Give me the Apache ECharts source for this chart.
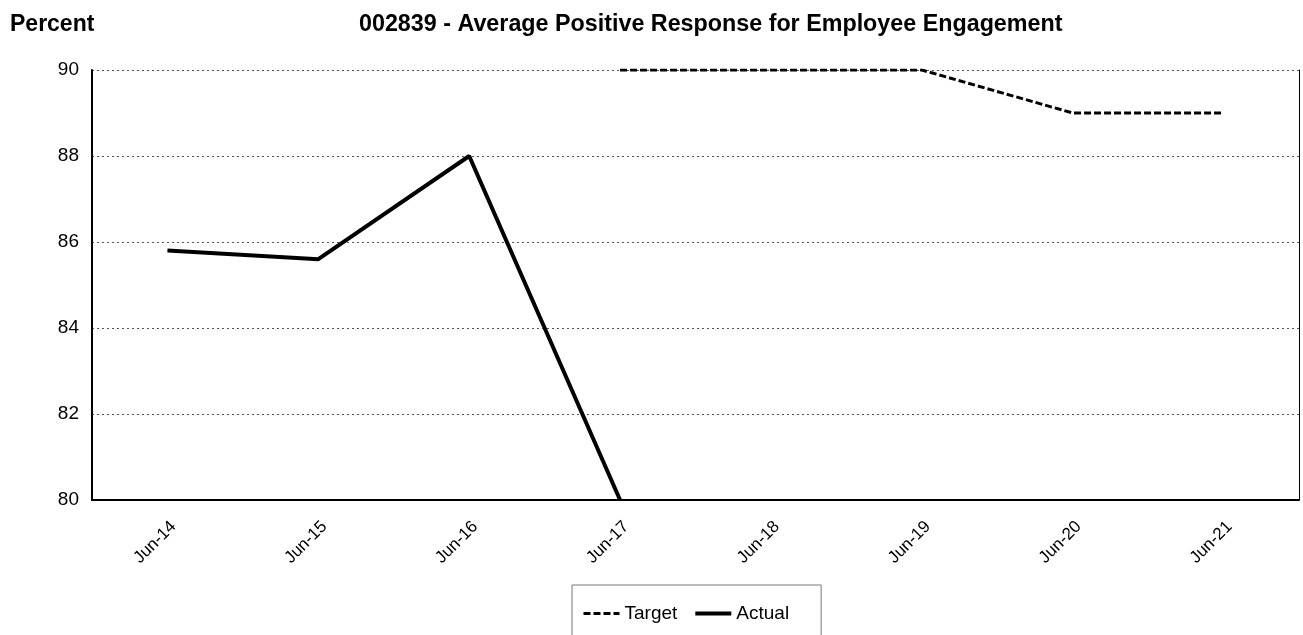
<!DOCTYPE html>
<html>
<head>
<meta charset="utf-8">
<script src="https://cdn.jsdelivr.net/npm/echarts@6/dist/echarts.min.js"></script>
<style>html,body{margin:0;padding:0;background:#fff}#c{width:1303px;height:635px}</style>
</head>
<body>
<div id="c"></div>
<script>
const categories = ['Jun-14','Jun-15','Jun-16','Jun-17','Jun-18','Jun-19','Jun-20','Jun-21'];
const targetValues = [null, null, null, 90, 90, 90, 89, 89];
const actualValues = [85.8, 85.6, 88, 80, null, null, null, null];
const yMin = 80, yMax = 90, yStep = 2;

const chart = echarts.init(document.getElementById('c'), null, {renderer: 'canvas'});
const font = 'Liberation Sans, Arial, sans-serif';
chart.setOption({
  animation: false,
  textStyle: {fontFamily: font, color: '#000'},
  title: [
    {text: 'Percent', left: 5, top: 8, textStyle: {fontFamily: font, fontSize: 23, fontWeight: 'bold', color: '#000'}},
    {text: '002839 - Average Positive Response for Employee Engagement', left: 354, top: 8, textStyle: {fontFamily: font, fontSize: 23.3, fontWeight: 'bold', color: '#000'}}
  ],
  grid: {left: 92, right: 4, top: 70, bottom: 135, containLabel: false},
  xAxis: {
    type: 'category', data: categories, boundaryGap: true,
    axisLine: {lineStyle: {color: '#000', width: 2}},
    axisTick: {show: false},
    axisLabel: {rotate: 45, fontFamily: font, fontSize: 17, color: '#000', margin: 18, verticalAlign: 'top'}
  },
  yAxis: [
    {type: 'value', min: yMin, max: yMax, interval: yStep,
     axisLine: {show: true, lineStyle: {color: '#000', width: 2}},
     axisTick: {show: false},
     axisLabel: {fontFamily: font, fontSize: 19, color: '#000', margin: 13},
     splitLine: {show: true, lineStyle: {color: '#555', type: [2, 3], width: 1}}},
    {type: 'value', min: yMin, max: yMax, interval: yStep, position: 'right',
     axisLine: {show: true, lineStyle: {color: '#000', width: 1}},
     axisTick: {show: false}, axisLabel: {show: false}, splitLine: {show: false}}
  ],
  legend: {
    top: 585, left: 572,
    data: ['Target', 'Actual'],
    itemWidth: 36, itemHeight: 14, itemGap: 16,
    padding: [19, 32, 40, 10],
    borderColor: '#777', borderWidth: 1,
    itemStyle: {opacity: 0},
    lineStyle: {width: 'inherit'},
    textStyle: {fontFamily: font, fontSize: 19, color: '#000'}
  },
  series: [
    {name: 'Target', type: 'line', data: targetValues, symbol: 'none', connectNulls: false,
     lineStyle: {color: '#000', width: 3, type: [7, 3]}, itemStyle: {color: '#000'}},
    {name: 'Actual', type: 'line', data: actualValues, symbol: 'none', connectNulls: false,
     lineStyle: {color: '#000', width: 4}, itemStyle: {color: '#000'}}
  ]
});
</script>
</body>
</html>
